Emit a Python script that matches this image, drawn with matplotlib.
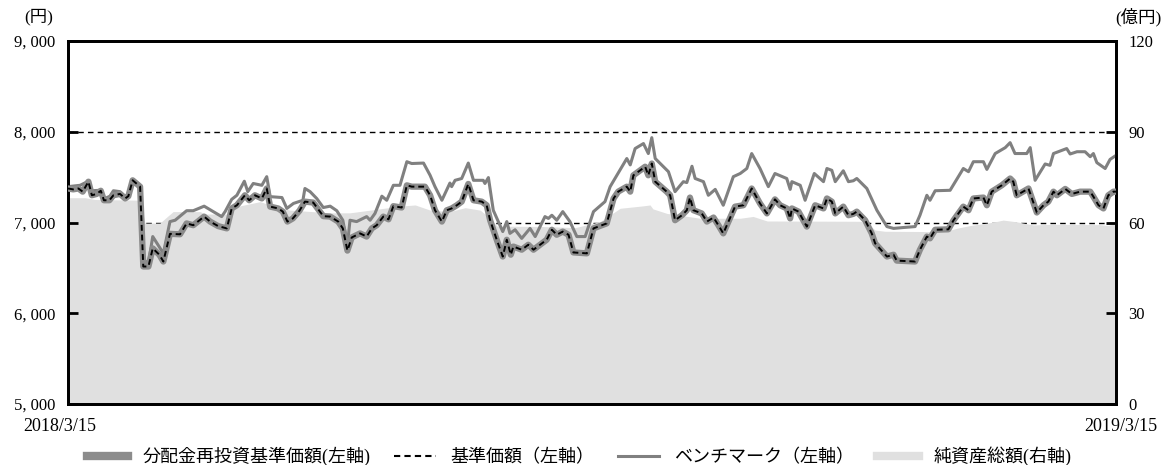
import pandas as pd
import matplotlib
matplotlib.use("Agg")
import matplotlib.pyplot as plt
from matplotlib.lines import Line2D
from matplotlib.ticker import FuncFormatter
from matplotlib.transforms import ScaledTranslation

plt.rcParams["font.family"] = ["Liberation Serif", "Noto Sans CJK JP"]

START = pd.Timestamp("2018-03-15")
END = pd.Timestamp("2019-03-15")

# 基準価額 (円), days counted from 2018/3/15
nav_day = [0, 1.8, 3.6, 5.1, 7.1, 8.3, 10.0, 11.4, 12.5, 14.4,
           15.8, 18.1, 19.9, 21.0, 22.5, 25.1, 26.2, 28.0, 29.5, 31.8,
           33.2, 35.5, 39.0, 41.3, 43.6, 47.4, 49.5, 52.3, 55.3, 57.0,
           58.8, 61.6, 63.1, 65.1, 67.5, 69.2, 70.4, 73.2, 74.8, 76.4,
           78.3, 80.6, 82.5, 85.4, 88.9, 91.3, 94.1, 95.7, 97.3, 98.8,
           101.7, 104.0, 105.8, 107.5, 109.8, 111.6, 113.3, 116.2, 118.0, 119.7,
           124.3, 126.1, 127.8, 130.2, 131.9, 133.6, 135.4, 137.1, 139.4, 141.2,
           144.1, 145.8, 147.0, 149.3, 151.4, 152.8, 154.2, 155.1, 158.0, 160.3,
           162.1, 164.4, 166.7, 168.5, 170.2, 172.3, 174.3, 176.0, 180.7, 183.0,
           187.6, 190.0, 191.6, 194.6, 195.8, 196.9, 198.6, 201.0, 202.1, 203.3,
           204.5, 208.5, 209.7, 211.4, 213.8, 215.5, 216.6, 217.8, 220.7, 222.5,
           224.8, 226.5, 228.2, 232.3, 235.2, 238.1, 241.0, 243.4, 246.2, 248.0,
           250.3, 251.5, 252.1, 254.4, 257.3, 260.2, 263.1, 264.3, 266.0, 267.2,
           270.0, 271.8, 273.5, 274.7, 277.6, 279.9, 281.1, 285.2, 287.5, 288.6,
           295.0, 296.7, 299.1, 300.2, 302.0, 306.6, 308.4, 311.8, 313.6, 315.3,
           318.8, 320.0, 321.7, 325.2, 328.1, 329.2, 330.4, 334.5, 337.4, 339.7,
           341.4, 343.2, 344.4, 347.3, 349.6, 352.5, 356.0, 357.1, 358.9, 360.6,
           362.3, 364.1, 365]
nav = [7375, 7365, 7375, 7340, 7450, 7300, 7315, 7350, 7245, 7245,
       7300, 7315, 7265, 7290, 7465, 7395, 6515, 6515, 6715, 6645,
       6570, 6875, 6870, 6990, 6970, 7065, 7010, 6960, 6935, 7155,
       7190, 7300, 7245, 7300, 7265, 7375, 7175, 7155, 7120, 7010,
       7045, 7130, 7230, 7220, 7070, 7065, 7010, 6935, 6690, 6835,
       6880, 6845, 6935, 6970, 7065, 7035, 7180, 7165, 7410, 7395,
       7395, 7300, 7135, 7010, 7135, 7155, 7190, 7230, 7425, 7245,
       7230, 7190, 7025, 6810, 6625, 6810, 6645, 6735, 6700, 6755,
       6700, 6755, 6810, 6920, 6865, 6900, 6865, 6670, 6660, 6935,
       6990, 7265, 7340, 7395, 7340, 7520, 7560, 7615, 7520, 7650,
       7450, 7340, 7300, 7025, 7080, 7135, 7275, 7135, 7100, 7010,
       7055, 6970, 6880, 7175, 7190, 7375, 7210, 7100, 7255, 7190,
       7155, 7045, 7155, 7120, 6955, 7190, 7155, 7265, 7230, 7100,
       7175, 7080, 7095, 7120, 7025, 6880, 6770, 6625, 6645, 6580,
       6570, 6700, 6845, 6825, 6920, 6925, 7025, 7175, 7135, 7265,
       7275, 7190, 7340, 7410, 7485, 7450, 7300, 7375, 7110, 7190,
       7230, 7340, 7300, 7370, 7315, 7340, 7340, 7285, 7190, 7155,
       7300, 7340, 7340]
# no distribution paid in the period, so the reinvested NAV equals the NAV
reinvested = list(nav)

# ベンチマーク (円)
bench_day = [0, 4.2, 7.1, 8.3, 11.1, 12.9, 14.6, 15.8, 18.1, 19.9,
             21.0, 22.5, 25.1, 26.2, 28.0, 29.5, 33.2, 35.5, 37.3, 40.2,
             41.3, 43.6, 47.4, 53.5, 54.7, 57.0, 58.8, 61.4, 62.6, 64.5,
             67.5, 69.2, 70.4, 74.5, 76.2, 78.5, 81.8, 82.5, 84.3, 86.6,
             88.9, 91.3, 93.6, 95.7, 97.3, 98.2, 100.5, 104.0, 105.2, 106.9,
             109.3, 111.0, 113.3, 115.6, 118.0, 119.7, 123.8, 126.1, 127.8, 130.2,
             133.0, 133.6, 134.8, 137.1, 139.4, 141.2, 144.6, 145.2, 146.4, 148.1,
             151.4, 152.8, 153.9, 155.7, 158.0, 160.9, 162.7, 166.1, 167.3, 168.5,
             170.2, 172.3, 174.8, 177.2, 180.1, 183.0, 187.0, 188.8, 194.6, 195.8,
             197.5, 200.4, 202.1, 203.3, 204.5, 209.1, 211.4, 214.3, 215.5, 217.3,
             218.4, 221.3, 223.0, 225.4, 228.2, 231.7, 234.1, 236.4, 238.1, 241.0,
             243.9, 246.2, 250.3, 251.5, 252.1, 255.0, 256.7, 259.9, 263.1, 264.3,
             266.0, 267.2, 270.0, 271.8, 273.5, 274.7, 278.2, 281.7, 285.2, 287.5,
             291.0, 295.0, 296.7, 299.1, 300.2, 302.0, 307.2, 311.8, 313.6, 315.3,
             318.8, 320.0, 322.9, 326.4, 328.1, 329.8, 333.9, 335.1, 336.8, 340.3,
             342.0, 343.2, 347.8, 349.0, 351.4, 354.2, 356.0, 357.1, 358.3, 361.2,
             362.9, 365]
bench = [7395, 7410, 7455, 7350, 7355, 7265, 7290, 7350, 7340, 7285,
         7315, 7475, 7410, 6590, 6550, 6845, 6660, 7010, 7025, 7100,
         7130, 7130, 7180, 7065, 7120, 7255, 7300, 7455, 7340, 7430,
         7410, 7505, 7285, 7275, 7155, 7210, 7245, 7375, 7340, 7265,
         7165, 7180, 7130, 7025, 6755, 7025, 7010, 7065, 7025, 7100,
         7290, 7245, 7410, 7410, 7670, 7650, 7655, 7520, 7395, 7245,
         7435, 7395, 7465, 7485, 7655, 7465, 7465, 7430, 7495, 7135,
         6900, 7010, 6880, 6920, 6825, 6935, 6845, 7065, 7045, 7080,
         7025, 7120, 7010, 6845, 6845, 7120, 7230, 7395, 7705, 7635,
         7815, 7870, 7760, 7935, 7705, 7560, 7340, 7450, 7440, 7620,
         7485, 7450, 7300, 7365, 7190, 7505, 7540, 7595, 7760, 7595,
         7395, 7540, 7485, 7365, 7450, 7410, 7245, 7540, 7450, 7595,
         7575, 7450, 7570, 7450, 7460, 7485, 7375, 7135, 6955, 6935,
         6945, 6955, 7080, 7300, 7245, 7350, 7355, 7595, 7560, 7670,
         7670, 7585, 7760, 7825, 7880, 7760, 7760, 7825, 7465, 7645,
         7630, 7760, 7815, 7755, 7780, 7780, 7725, 7760, 7660, 7595,
         7695, 7740]

# 純資産総額 (億円)
assets_day = [0, 5.9, 9.4, 24.0, 25.4, 26.8, 32.0, 34.5, 36.6, 46.0,
              47.7, 55.4, 59.9, 66.9, 72.1, 77.3, 91.3, 98.2, 115.6, 120.9,
              126.1, 133.0, 138.3, 143.5, 147.0, 149.4, 164.4, 176.6, 185.3, 188.8,
              192.3, 200.3, 202.7, 203.7, 208.6, 216.6, 220.1, 234.1, 238.6, 243.5,
              275.9, 278.6, 281.1, 284.5, 300.2, 306.2, 309.6, 314.2, 322.2, 325.7,
              330.5, 336.1, 343.1, 359.4, 362.2, 365]
assets = [68.2, 68.2, 67.6, 67.4, 66.0, 59.8, 59.8, 61.9, 63.6, 63.6,
          62.8, 62.8, 65.5, 66.9, 65.2, 64.1, 63.2, 63.2, 65.4, 65.8,
          64.1, 63.6, 64.9, 64.1, 61.4, 58.8, 58.7, 58.3, 60.3, 62.5,
          64.7, 65.5, 65.8, 64.5, 63.0, 61.9, 61.4, 61.4, 62.0, 60.5,
          60.4, 59.5, 57.5, 57.1, 57.0, 57.2, 58.1, 59.0, 60.1, 60.8,
          60.2, 59.2, 59.4, 59.3, 59.0, 59.7]

labels = ["分配金再投資基準価額(左軸)", "基準価額（左軸）",
          "ベンチマーク（左軸）", "純資産総額(右軸)"]


def to_dates(days):
    return START + pd.to_timedelta(days, unit="D")


fig = plt.figure(figsize=(11.65, 4.65), dpi=100)
ax = fig.add_axes([0.0584, 0.1312, 0.8996, 0.7806])
ax2 = ax.twinx()
ax.set_zorder(ax2.get_zorder() + 1)
ax.patch.set_visible(False)

# right axis: grid lines under the net-asset area
for lv in (60, 90):
    ax2.axhline(lv, color="black", lw=1.0, ls=(0, (4, 3)), zorder=0)
ax2.fill_between(to_dates(assets_day), assets, 0, color="#e0e0e0", lw=0, zorder=1)
ax2.set_ylim(0, 120)
ax2.set_yticks([0, 30, 60, 90, 120])

GRAY_THICK = "#8c8c8c"
GRAY_BENCH = "#808080"
ax.plot(to_dates(bench_day), bench, color=GRAY_BENCH, lw=2.2, zorder=2)
ax.plot(to_dates(nav_day), reinvested, color=GRAY_THICK, lw=4.5,
        solid_joinstyle="round", zorder=3)
ax.plot(to_dates(nav_day), nav, color="black", lw=1.4, ls=(0, (3, 2)), zorder=4)

ax.set_ylim(5000, 9000)
ax.set_yticks(range(5000, 9001, 1000))
ax.yaxis.set_major_formatter(FuncFormatter(lambda v, p: f"{v:,.0f}".replace(",", ", ")))
ax.set_xlim(START, END)
ax.set_xticks([START, END])
ax.set_xticklabels(["2018/3/15", "2019/3/15"])

ax.tick_params(axis="y", direction="in", length=7, width=2, pad=9, labelsize=12)
ax2.tick_params(axis="y", direction="in", length=7, width=2, pad=9, labelsize=12)
ax.tick_params(axis="x", length=0, pad=10, labelsize=13)
# the date labels sit a little off the axis ends
for lab, dx in zip(ax.get_xticklabels(), (-8, 5)):
    lab.set_transform(lab.get_transform() + ScaledTranslation(dx / 100, 0, fig.dpi_scale_trans))
for a in (ax, ax2):
    for s in a.spines.values():
        s.set_linewidth(2)
        s.set_color("black")

fig.text(0.033, 0.963, "(円)", ha="center", va="center", fontsize=12.5)
fig.text(0.977, 0.963, "(億円)", ha="center", va="center", fontsize=12.5)

handles = [Line2D([], [], color=GRAY_THICK, lw=6),
           Line2D([], [], color="black", lw=1.5, ls=(0, (3, 2))),
           Line2D([], [], color=GRAY_BENCH, lw=2.2),
           Line2D([], [], color="#e0e0e0", lw=6)]
fig.legend(handles, labels, loc="center", bbox_to_anchor=(0.497, 0.018), ncol=4,
           frameon=False, fontsize=13, handlelength=2.3, handletextpad=0.8,
           columnspacing=1.3)

fig.savefig("out.png", dpi=100)
